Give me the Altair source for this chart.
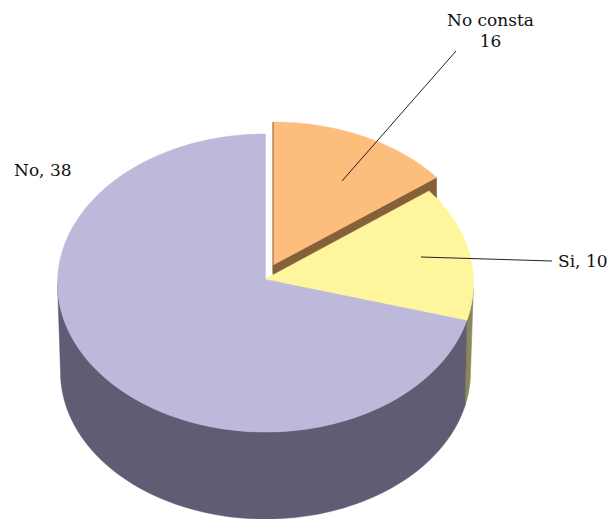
import math
import altair as alt
import pandas as pd

# Values
categories = ["No consta", "Si", "No"]
label_values = [16, 10, 38]
drawn_shares = [14.4, 14.6, 71.0]   # share of the circle as drawn in the picture
colors = {"No consta": "#fdbd7c", "Si": "#fff59d", "No": "#bdb9db"}

# Geometry of the pseudo-3D pie (page pixels)
W, H = 599, 511
CX, CY, RX, RY = 265.5, 283, 208, 149
BCX, BCY, BRX, BRY = 265.5, 372, 205, 147
APEX = (265.5, 279)
EXPL_C = (273, 267, 208, 145)
EXPL_APEX = (273, 265)
DEPTH = 22
N_STEP = 2


def ell(c, t):
    return (c[0] + c[2] * math.cos(math.radians(t)), c[1] - c[3] * math.sin(math.radians(t)))


def arc(c, a, b):
    n = max(2, int(abs(b - a) / N_STEP))
    return [ell(c, a + (b - a) * i / n) for i in range(n + 1)]


top = (CX, CY, RX, RY)
bot = (BCX, BCY, BRX, BRY)

angles = {}
a = 90.0
for cat, s in zip(categories, drawn_shares):
    angles[cat] = (a, a - s * 3.6)
    a -= s * 3.6

o0, o1 = angles["No consta"]
y0, y1 = angles["Si"]
n0, n1 = angles["No"]

orange_arc = arc(EXPL_C, o0, o1)
polys = [
    ("olive", "#8a8858", arc(top, -2, y1) + arc(bot, y1 + 1, 0)),
    ("wall", "#5f5c74", arc(top, y1, -180) + arc(bot, -180, y1 + 1)),
    ("brown", "#85613a", [EXPL_APEX, orange_arc[-1],
                          (orange_arc[-1][0], orange_arc[-1][1] + DEPTH),
                          (EXPL_APEX[0], EXPL_APEX[1] + DEPTH)]),
    ("No", colors["No"], [APEX] + arc(top, n0, n1)),
    ("Si", colors["Si"], [APEX] + arc(top, y0, y1)),
    ("No consta", colors["No consta"], [EXPL_APEX] + orange_arc),
]


def poly_layer(name, color, pts):
    pts = list(pts) + [pts[0]]
    df = pd.DataFrame({"x": [p[0] - 8 for p in pts], "y": [p[1] - 8 for p in pts], "i": range(len(pts))})
    return alt.Chart(df).mark_line(fill=color, stroke=color, strokeWidth=0.5, interpolate="linear-closed").encode(
        x=alt.X("x:Q", scale=xs, axis=None),
        y=alt.Y("y:Q", scale=ys, axis=None),
        order="i:Q",
    )


xs = alt.Scale(domain=[0, W], nice=False, zero=False)
ys = alt.Scale(domain=[H, 0], nice=False, zero=False)

layers = [poly_layer(*p) for p in polys]

# Brown edge on the exploded slice
edge = pd.DataFrame({"x": [EXPL_APEX[0] - 8, EXPL_APEX[0] - 8], "y": [122 - 8, EXPL_APEX[1] + 8 - 8], "i": [0, 1]})
layers.append(alt.Chart(edge).mark_line(color="#85613a", strokeWidth=1).encode(
    x=alt.X("x:Q", scale=xs, axis=None), y=alt.Y("y:Q", scale=ys, axis=None), order="i:Q"))

# Leader lines
for (x1, y_1, x2, y2) in [(342, 181, 456, 51), (421, 257, 552, 261)]:
    d = pd.DataFrame({"x": [x1 - 8, x2 - 8], "y": [y_1 - 8, y2 - 8], "i": [0, 1]})
    layers.append(alt.Chart(d).mark_line(color="#222222", strokeWidth=1).encode(
        x=alt.X("x:Q", scale=xs, axis=None), y=alt.Y("y:Q", scale=ys, axis=None), order="i:Q"))

# Labels
labels = pd.DataFrame([
    {"t": categories[0], "x": 490.5 - 8, "y": 26 - 8, "a": "center"},
    {"t": str(label_values[0]), "x": 490.5 - 8, "y": 47 - 8, "a": "center"},
    {"t": f"{categories[1]}, {label_values[1]}", "x": 558 - 8, "y": 267 - 8, "a": "left"},
    {"t": f"{categories[2]}, {label_values[2]}", "x": 14 - 8, "y": 176 - 8, "a": "left"},
])
for al in ["center", "left"]:
    layers.append(alt.Chart(labels[labels.a == al]).mark_text(
        font="DejaVu Serif", fontSize=17, color="#111111", align=al, baseline="alphabetic"
    ).encode(x=alt.X("x:Q", scale=xs, axis=None), y=alt.Y("y:Q", scale=ys, axis=None), text="t:N"))

chart = alt.layer(*layers).properties(
    width=W, height=H, padding=0, autosize=alt.AutoSizeParams(type="none"),
    background="white",
).configure_view(stroke=None)

chart.save("out.html", embed_options={"renderer": "svg", "actions": False})
